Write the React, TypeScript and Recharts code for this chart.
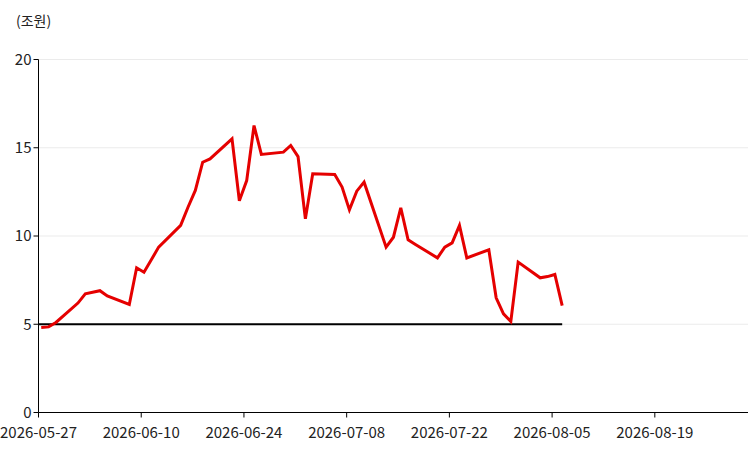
import {
  CartesianGrid,
  Line,
  LineChart,
  ReferenceLine,
  XAxis,
  YAxis,
} from "recharts";

// business days with their values (조원)
const dates = [
  "2026-05-27", "2026-05-28", "2026-05-29", "2026-06-01", "2026-06-02",
  "2026-06-04", "2026-06-05", "2026-06-08", "2026-06-09", "2026-06-10",
  "2026-06-11", "2026-06-12", "2026-06-15", "2026-06-16", "2026-06-17",
  "2026-06-18", "2026-06-19", "2026-06-22", "2026-06-23", "2026-06-24",
  "2026-06-25", "2026-06-26", "2026-06-29", "2026-06-30", "2026-07-01",
  "2026-07-02", "2026-07-03", "2026-07-06", "2026-07-07", "2026-07-08",
  "2026-07-09", "2026-07-10", "2026-07-13", "2026-07-14", "2026-07-15",
  "2026-07-16", "2026-07-17", "2026-07-20", "2026-07-21", "2026-07-22",
  "2026-07-23", "2026-07-24", "2026-07-27", "2026-07-28", "2026-07-29",
  "2026-07-30", "2026-07-31", "2026-08-03", "2026-08-04", "2026-08-05",
  "2026-08-06",
];

const values = [
  4.82, 4.85, 5.1, 6.2, 6.72,
  6.9, 6.6, 6.12, 8.2, 7.95,
  8.65, 9.37, 10.6, 11.63, 12.58,
  14.18, 14.37, 15.5, 12.0, 13.14,
  16.26, 14.62, 14.75, 15.13, 14.5,
  10.97, 13.52, 13.49, 12.77, 11.48,
  12.54, 13.05, 9.37, 9.93, 11.6,
  9.78, 9.52, 8.76, 9.37, 9.61,
  10.6, 8.76, 9.22, 6.5, 5.59,
  5.16, 8.52, 7.63, 7.7, 7.82,
  6.06,
];

const threshold = 5;
const xTickLabels = [
  "2026-05-27", "2026-06-10", "2026-06-24", "2026-07-08",
  "2026-07-22", "2026-08-05", "2026-08-19",
];
const yTicks = [0, 5, 10, 15, 20];

const DAY = 86400000;
const start = Date.UTC(2026, 4, 27);
const toDay = (s: string) => {
  const [y, m, d] = s.split("-").map(Number);
  return (Date.UTC(y, m - 1, d) - start) / DAY;
};
const fromDay = (n: number) =>
  new Date(start + Math.round(n) * DAY).toISOString().slice(0, 10);

// points are stamped 09:00 KST, so they sit a little right of midnight ticks
const data = dates.map((d, i) => ({ x: toDay(d) + 0.375, value: values[i] }));
const lastX = data[data.length - 1].x;

const font = '"Noto Sans CJK KR", "Noto Sans", sans-serif';

export default function App() {
  return (
    <div style={{ position: "absolute", left: 0, top: 0, width: 750, height: 463, background: "#fff", fontFamily: font }}>
      <div style={{ position: "absolute", left: 16, top: 10, fontSize: 14, color: "#222" }}>
        (조원)
      </div>
      <LineChart
        width={750}
        height={463}
        data={data}
        margin={{ top: 59.5, right: 2, bottom: 20.5, left: 0.5 }}
      >
        <CartesianGrid vertical={false} stroke="#ebebeb" />
        <XAxis
          dataKey="x"
          type="number"
          domain={[0, 96.7]}
          ticks={xTickLabels.map(toDay)}
          tickFormatter={fromDay}
          axisLine={{ stroke: "#000" }}
          tickLine={{ stroke: "#000" }}
          tickSize={5}
          height={30}
          tick={{ fontSize: 15, fill: "#222", fontFamily: font, dy: 8 }}
          interval={0}
        />
        <YAxis
          domain={[0, 20]}
          ticks={yTicks}
          width={38}
          axisLine={{ stroke: "#000" }}
          tickLine={{ stroke: "#000" }}
          tickSize={5}
          tick={{ fontSize: 15, fill: "#222", fontFamily: font }}
        />
        <ReferenceLine
          segment={[{ x: 0, y: threshold }, { x: lastX, y: threshold }]}
          stroke="#000"
          strokeWidth={2}
        />
        <Line
          dataKey="value"
          stroke="#e50000"
          strokeWidth={3}
          dot={false}
          isAnimationActive={false}
        />
      </LineChart>
    </div>
  );
}
